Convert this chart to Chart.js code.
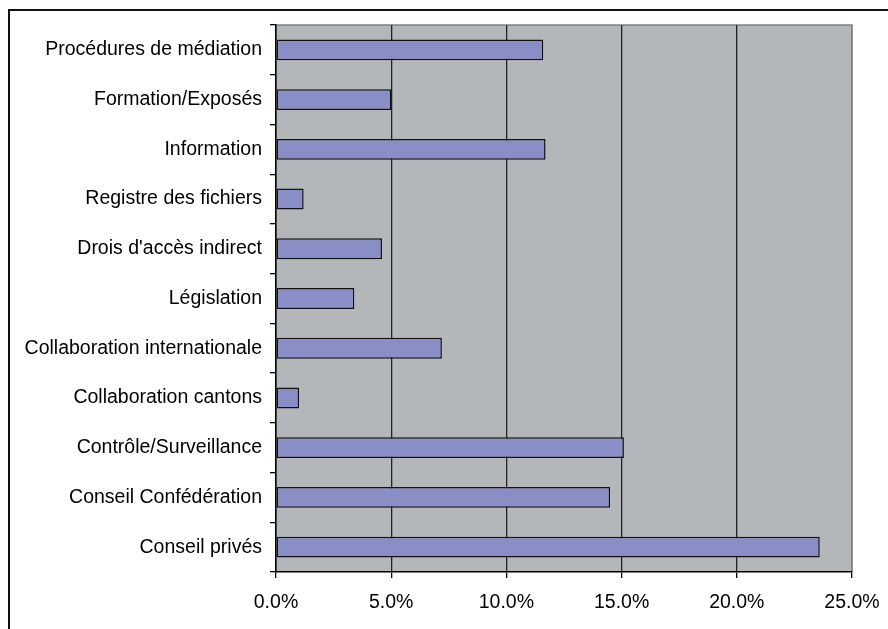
<!DOCTYPE html>
<html>
<head>
<meta charset="utf-8">
<script src="https://cdn.jsdelivr.net/npm/chart.js@4"></script>
<style>
    body { margin: 0; background: #fff; }
    canvas { display: block; }
</style>
</head>
<body>
<canvas id="chart" width="888" height="629"></canvas>
<script>
var categories = [
    "Procédures de médiation",
    "Formation/Exposés",
    "Information",
    "Registre des fichiers",
    "Drois d'accès indirect",
    "Législation",
    "Collaboration internationale",
    "Collaboration cantons",
    "Contrôle/Surveillance",
    "Conseil Confédération",
    "Conseil privés"
];
var shares = [11.6, 5.0, 11.7, 1.2, 4.6, 3.4, 7.2, 1.0, 15.1, 14.5, 23.6];
var axisMin = 0;
var axisMax = 25;
var axisStep = 5;

// grey plot area, its top/right border and the frame round the whole chart
var frame = {
    id: "frame",
    beforeDraw: function (chart) {
        var ctx = chart.ctx;
        var a = chart.chartArea;
        ctx.save();
        ctx.fillStyle = "#b4b7b9";
        ctx.fillRect(a.left, a.top, a.right - a.left, a.bottom - a.top);
        ctx.strokeStyle = "#808080";
        ctx.lineWidth = 1.5;
        ctx.beginPath();
        ctx.moveTo(a.left, a.top);
        ctx.lineTo(a.right, a.top);
        ctx.lineTo(a.right, a.bottom);
        ctx.stroke();
        ctx.strokeStyle = "#111";
        ctx.lineWidth = 2;
        ctx.beginPath();
        ctx.moveTo(9, 700);
        ctx.lineTo(9, 10);
        ctx.lineTo(900, 10);
        ctx.stroke();
        ctx.restore();
    }
};

new Chart(document.getElementById("chart"), {
    type: "bar",
    data: {
        labels: categories,
        datasets: [{
            data: shares,
            backgroundColor: "#8a8ec6",
            borderColor: "#111",
            borderWidth: 1.5,
            borderSkipped: false,
            categoryPercentage: 1,
            barPercentage: 0.42
        }]
    },
    options: {
        indexAxis: "y",
        responsive: false,
        animation: false,
        layout: { padding: { left: 0, top: 25, right: 36, bottom: 0 } },
        plugins: {
            legend: { display: false },
            tooltip: { enabled: false }
        },
        scales: {
            x: {
                min: axisMin,
                max: axisMax,
                ticks: {
                    stepSize: axisStep,
                    padding: 13,
                    color: "#000",
                    font: { family: "'Liberation Sans', Arial", size: 19.5 },
                    callback: function (v) { return v.toFixed(1) + "%"; }
                },
                grid: {
                    color: function (c) { return c.tick && c.tick.value === axisMax ? "#808080" : "#222"; },
                    tickColor: "#000",
                    tickLength: 6,
                    lineWidth: 1.3
                },
                border: { color: "#000", width: 1.5 },
                afterFit: function (scale) {
                    scale.height = 57;
                    scale.paddingLeft = 0;
                    scale.paddingRight = 0;
                }
            },
            y: {
                ticks: {
                    padding: 8,
                    color: "#000",
                    font: { family: "'Liberation Sans', Arial", size: 19.5 }
                },
                grid: {
                    offset: true,
                    drawOnChartArea: false,
                    tickColor: "#000",
                    tickLength: 6,
                    lineWidth: 1.3
                },
                border: { color: "#000", width: 1.5 },
                afterFit: function (scale) { scale.width = 276; }
            }
        }
    },
    plugins: [frame]
});
</script>
</body>
</html>
